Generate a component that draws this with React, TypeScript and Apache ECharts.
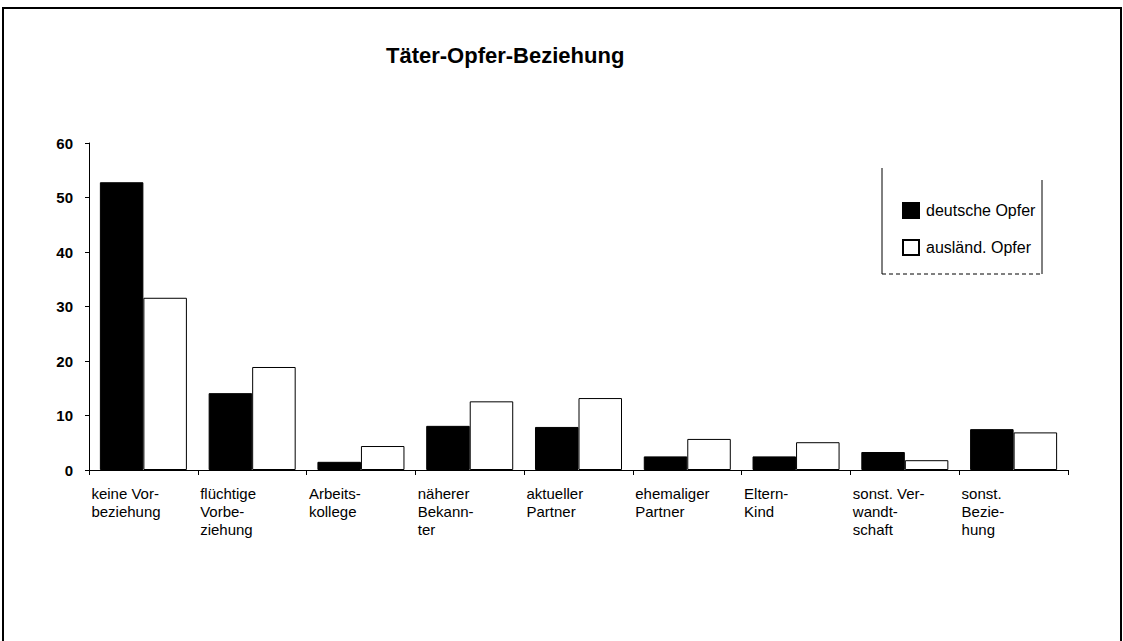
import React, { useEffect, useRef } from "react";
import * as echarts from "echarts";

const chartTitle = "Täter-Opfer-Beziehung";
const categories = [
  "keine Vor-\nbeziehung",
  "flüchtige\nVorbe-\nziehung",
  "Arbeits-\nkollege",
  "näherer\nBekann-\nter",
  "aktueller\nPartner",
  "ehemaliger\nPartner",
  "Eltern-\nKind",
  "sonst. Ver-\nwandt-\nschaft",
  "sonst.\nBezie-\nhung",
];
const seriesNames = ["deutsche Opfer", "ausländ. Opfer"];
const deutscheOpfer = [52.8, 14.1, 1.5, 8.1, 7.9, 2.5, 2.5, 3.3, 7.5];
const auslaendOpfer = [31.6, 18.9, 4.4, 12.6, 13.2, 5.7, 5.1, 1.8, 6.9];
const yMin = 0;
const yMax = 60;
const yInterval = 10;

const FONT = "'Liberation Sans', Arial, Helvetica, sans-serif";

export default function App() {
  const ref = useRef<HTMLDivElement>(null);
  useEffect(() => {
    if (!ref.current) return;
    const chart = echarts.init(ref.current, undefined, { renderer: "svg" });
    chart.setOption({
      animation: false,
      backgroundColor: "#ffffff",
      textStyle: { fontFamily: FONT, color: "#000" },
      graphic: [
        {
          type: "polyline",
          shape: { points: [[3, 660], [3, 8], [1121, 8], [1121, 660]] },
          style: { stroke: "#000", lineWidth: 2, fill: null },
          silent: true,
        },
        {
          type: "text",
          left: 386,
          top: 44,
          style: {
            text: chartTitle,
            font: `bold 22px ${FONT}`,
            fill: "#000",
          },
        },
        {
          type: "polyline",
          shape: { points: [[882, 168], [882, 274]] },
          style: { stroke: "#000", lineWidth: 1, fill: null },
          silent: true,
        },
        {
          type: "polyline",
          shape: { points: [[882, 274], [1042, 274]] },
          style: { stroke: "#000", lineWidth: 1, fill: null, lineDash: [4, 3] },
          silent: true,
        },
        {
          type: "polyline",
          shape: { points: [[1042, 180], [1042, 274]] },
          style: { stroke: "#000", lineWidth: 1, fill: null },
          silent: true,
        },
      ],
      legend: {
        data: seriesNames,
        orient: "vertical",
        left: 897,
        top: 197,
        itemWidth: 16,
        itemHeight: 15,
        itemGap: 20,
        icon: "rect",
        textStyle: { fontSize: 16, fontFamily: FONT, color: "#000", padding: [0, 0, 0, 2] },
      },
      grid: [
        { left: 89, right: 55, top: 143, bottom: 171 },
        { left: 37, right: 107, top: 143, bottom: 171 },
      ],
      xAxis: [
        {
          type: "category",
          gridIndex: 0,
          data: categories,
          axisLine: { lineStyle: { color: "#000", width: 1 } },
          axisTick: { show: true, length: 5, lineStyle: { color: "#000" } },
          axisLabel: { show: false },
        },
        {
          type: "category",
          gridIndex: 1,
          data: categories,
          axisLine: { show: false },
          axisTick: { show: false },
          axisLabel: {
            show: true,
            align: "left",
            verticalAlign: "top",
            margin: 14,
            fontSize: 15,
            lineHeight: 18,
            color: "#000",
            fontFamily: FONT,
            interval: 0,
          },
        },
      ],
      yAxis: [
        {
          type: "value",
          gridIndex: 0,
          min: yMin,
          max: yMax,
          interval: yInterval,
          axisLine: { show: true, lineStyle: { color: "#000", width: 1 } },
          axisTick: { show: true, inside: false, length: 4, lineStyle: { color: "#000" } },
          splitLine: { show: false },
          axisLabel: {
            fontSize: 15,
            fontWeight: "bold",
            color: "#000",
            margin: 16,
            fontFamily: FONT,
          },
        },
        {
          type: "value",
          gridIndex: 1,
          min: yMin,
          max: yMax,
          show: false,
        },
      ],
      series: [
        {
          name: seriesNames[0],
          type: "bar",
          xAxisIndex: 0,
          yAxisIndex: 0,
          data: deutscheOpfer,
          barGap: "0%",
          barCategoryGap: "20%",
          itemStyle: { color: "#000", borderColor: "#000", borderWidth: 1 },
        },
        {
          name: seriesNames[1],
          type: "bar",
          xAxisIndex: 0,
          yAxisIndex: 0,
          data: auslaendOpfer,
          barGap: "0%",
          barCategoryGap: "20%",
          itemStyle: { color: "#fff", borderColor: "#000", borderWidth: 1 },
        },
      ],
    });
    return () => chart.dispose();
  }, []);
  return (
    <div
      ref={ref}
      style={{ position: "fixed", left: 0, top: 0, width: 1123, height: 641 }}
    />
  );
}
